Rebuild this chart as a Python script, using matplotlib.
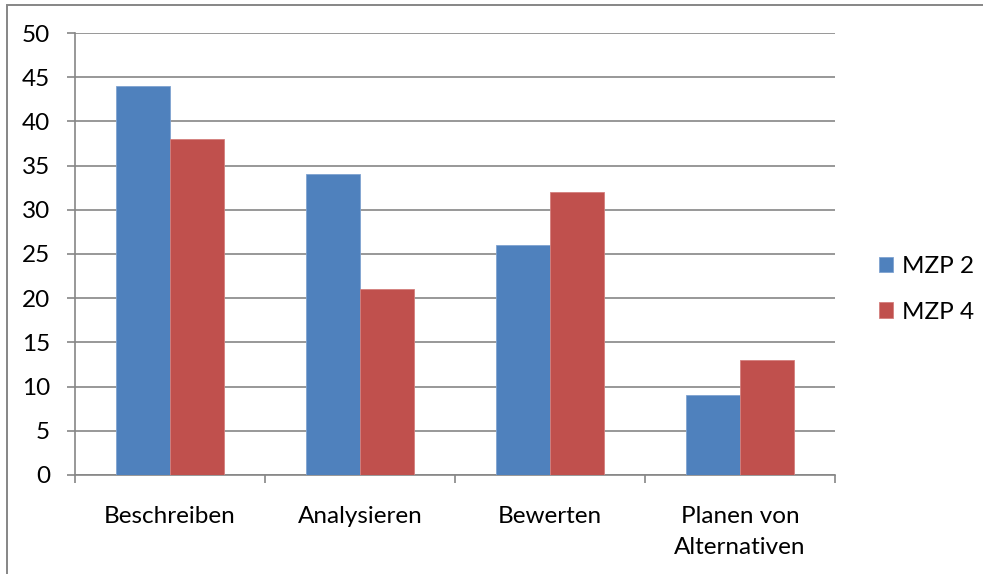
import numpy as np
import matplotlib
matplotlib.use('Agg')
import matplotlib.pyplot as plt
from matplotlib.patches import Rectangle

categories = ['Beschreiben', 'Analysieren', 'Bewerten', 'Planen von\nAlternativen']
mzp2 = [44, 34, 26, 9]
mzp4 = [38, 21, 32, 13]
series_names = ['MZP 2', 'MZP 4']
yticks = [0, 5, 10, 15, 20, 25, 30, 35, 40, 45, 50]

plt.rcParams['font.family'] = ['Lato', 'DejaVu Sans']
grey = '#868686'
fs = 17.5

fig = plt.figure(figsize=(9.83, 5.74), dpi=100)
ax = fig.add_axes([0.0763, 0.1725, 0.7731, 0.770])

x = np.arange(len(categories))
w = 0.284
ax.bar(x - w / 2, mzp2, w, color='#4F81BD', edgecolor='#7FA3D1', linewidth=0.6, label=series_names[0], zorder=3)
ax.bar(x + w / 2, mzp4, w, color='#C0504D', edgecolor='#D47F7D', linewidth=0.6, label=series_names[1], zorder=3)

ax.set_xlim(-0.5, len(categories) - 0.5)
ax.set_ylim(0, 50)
ax.set_yticks(yticks)
ax.yaxis.grid(True, color=grey, linewidth=1.2, zorder=0)
ax.tick_params(axis='y', length=6, width=1.2, color=grey, labelsize=fs, pad=12, direction='out')

# category labels sit between the boundary ticks
ax.set_xticks(np.arange(len(categories) + 1) - 0.5)
ax.set_xticklabels([])
ax.set_xticks(x, minor=True)
ax.set_xticklabels(categories, minor=True, fontsize=fs, linespacing=1.6)
ax.tick_params(axis='x', which='major', length=6, width=1.2, color=grey, direction='out')
ax.tick_params(axis='x', which='minor', length=0, pad=22)

for side in ['top', 'right']:
    ax.spines[side].set_visible(False)
for side in ['left', 'bottom']:
    ax.spines[side].set_color(grey)
    ax.spines[side].set_linewidth(1.2)

ax.legend(loc='center left', bbox_to_anchor=(1.029, 0.42), frameon=False, fontsize=fs,
          handlelength=0.6, handleheight=0.6, handletextpad=0.35, labelspacing=1.0)

# chart frame: only top and left edges fall inside the canvas
fig.patches.append(Rectangle((6.5 / 983, -0.05), 1.1, 569 / 574 + 0.05, transform=fig.transFigure,
                             fill=False, edgecolor=grey, linewidth=1.4))

fig.savefig('out.png', dpi=100)
